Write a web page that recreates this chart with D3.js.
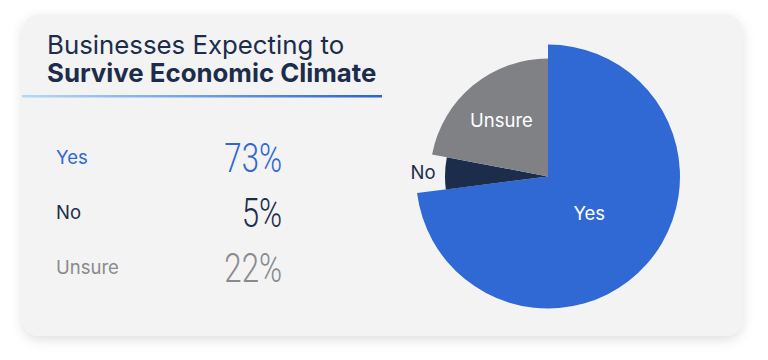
<!DOCTYPE html>
<html><head><meta charset="utf-8">
<script src="https://cdn.jsdelivr.net/npm/d3@7"></script>
<style>
html,body{margin:0;padding:0;background:#fff;}
svg{display:block;font-family:Inter,"Noto Sans",sans-serif;}
</style></head>
<body><svg id="c" width="768" height="360"></svg>
<script>
const categories = ["Yes", "No", "Unsure"];
const values = [73, 5, 22];
const valueLabels = ["73%", "5%", "22%"];
const titleLine1 = "Businesses Expecting to";
const titleLine2 = "Survive Economic Climate";

const colors = ["#3068d4", "#1b2d4b", "#808185"];
const labelColors = ["#3068d4", "#1b2d4b", "#888a8e"];
const sliceRadius = [132, 103, 118];

const svg = d3.select("#c");
const defs = svg.append("defs");
const f = defs.append("filter").attr("id","sh").attr("x","-10%").attr("y","-10%").attr("width","120%").attr("height","130%");
f.append("feDropShadow").attr("dx",0).attr("dy",4).attr("stdDeviation",6).attr("flood-color","#000").attr("flood-opacity",0.12);
const g = defs.append("linearGradient").attr("id","lg");
g.append("stop").attr("offset","0%").attr("stop-color","#b0dcf8");
g.append("stop").attr("offset","100%").attr("stop-color","#2c61d2");

svg.append("rect").attr("x",22).attr("y",14).attr("width",721).attr("height",322)
  .attr("rx",18).attr("fill","#f3f3f3").attr("filter","url(#sh)");

svg.append("text").attr("x",47).attr("y",54).attr("font-size",25.8).attr("fill","#1b2d4b")
  .attr("font-weight",400).text(titleLine1);
svg.append("text").attr("x",47).attr("y",82).attr("font-size",25.8).attr("fill","#1b2d4b")
  .attr("font-weight",700).text(titleLine2);
svg.append("rect").attr("x",22).attr("y",95).attr("width",360).attr("height",2.5).attr("fill","url(#lg)");

// left list
const y = d3.scalePoint().domain(categories).range([157, 267]);
const rows = svg.append("g").selectAll("g").data(categories).join("g");
rows.append("text").attr("x",56).attr("y",d=>y(d)).attr("dy","0.36em")
  .attr("font-size",18.5).attr("fill",(d,i)=>labelColors[i]).text(d=>d);
rows.append("text")
  .attr("transform",d=>`translate(282,${y(d)+15}) scale(0.78,1)`)
  .attr("text-anchor","end").attr("font-family","Roboto").attr("font-weight",300)
  .attr("font-size",40).attr("fill",(d,i)=>labelColors[i]).text((d,i)=>valueLabels[i]);

// pie
const data = categories.map((c,i)=>({c, v:values[i], i}));
const pie = d3.pie().value(d=>d.v).sort(null);
const arcs = pie(data);
const pg = svg.append("g").attr("transform","translate(548,176.5)");
const arc = d3.arc().innerRadius(0).outerRadius(d=>sliceRadius[d.data.i]);
pg.selectAll("path").data(arcs).join("path").attr("d",arc).attr("fill",d=>colors[d.data.i]);
const labelR = [55, 125, 73];
const lblCol = ["#fff", "#1b2d4b", "#fff"];
pg.selectAll("text").data(arcs).join("text")
  .attr("transform",d=>{
    const c = d3.arc().innerRadius(labelR[d.data.i]).outerRadius(labelR[d.data.i]).centroid(d);
    return `translate(${c})`;})
  .attr("text-anchor","middle").attr("dy","0.36em").attr("font-size",18.5)
  .attr("fill",d=>lblCol[d.data.i]).text(d=>d.data.c);
</script></body></html>
